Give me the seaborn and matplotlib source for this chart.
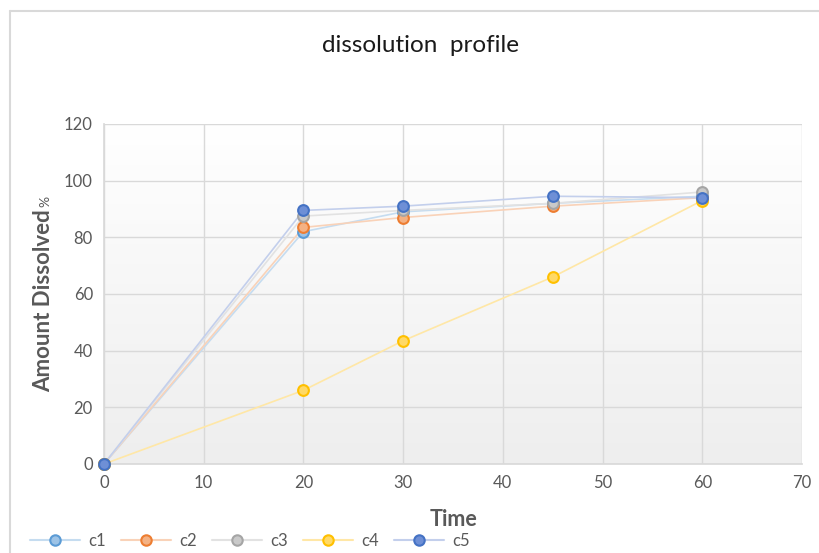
import numpy as np
import pandas as pd
import matplotlib
matplotlib.use("Agg")
import matplotlib.pyplot as plt
import seaborn as sns
from matplotlib.lines import Line2D
from matplotlib.colors import LinearSegmentedColormap

time = [0, 20, 30, 45, 60]
c1 = [0, 82, 89, 92, 94.5]
c2 = [0, 83.5, 87, 91, 94]
c3 = [0, 87.5, 89.5, 92, 96]
c4 = [0, 26, 43.5, 66, 93]
c5 = [0, 89.5, 91, 94.5, 94]
series_names = ["c1", "c2", "c3", "c4", "c5"]
x_ticks = [0, 10, 20, 30, 40, 50, 60, 70]
y_ticks = [0, 20, 40, 60, 80, 100, 120]

df = pd.DataFrame({"Time": time * 5,
                   "value": c1 + c2 + c3 + c4 + c5,
                   "series": sum([[n] * len(time) for n in series_names], [])})

sns.set_theme(style="white")
plt.rcParams["font.family"] = ["Lato", "DejaVu Sans"]

edge_cols = {"c1": "#5B9BD5", "c2": "#ED7D31", "c3": "#A5A5A5", "c4": "#FFC000", "c5": "#4472C4"}
face_cols = {"c1": "#9DC3E6", "c2": "#F4B183", "c3": "#C9C9C9", "c4": "#FFD966", "c5": "#6E8FD6"}
line_cols = {"c1": "#C5DCF0", "c2": "#F9D2B8", "c3": "#E2E2E2", "c4": "#FFE7A6", "c5": "#C3CFEC"}

fig = plt.figure(figsize=(8.2, 5.53), dpi=100)
ax = fig.add_axes([104 / 820, 1 - 464 / 553, 698 / 820, 340 / 553])

# gradient background: white at top, light grey at bottom
grad = np.linspace(0, 1, 256).reshape(-1, 1)
cmap = LinearSegmentedColormap.from_list("bg", ["#FFFFFF", "#EEEEEE"])
ax.imshow(grad, extent=[0, 70, 0, 120], aspect="auto", cmap=cmap, zorder=0, origin="upper")

sns.lineplot(data=df, x="Time", y="value", hue="series", palette=line_cols,
             linewidth=1.2, legend=False, ax=ax, zorder=2)
for n in series_names:
    sub = df[df.series == n]
    ax.scatter(sub["Time"], sub["value"], s=60, facecolor=face_cols[n],
               edgecolor=edge_cols[n], linewidth=1.5, zorder=3, clip_on=False)

ax.set_xlim(0, 70)
ax.set_ylim(0, 120)
ax.set_xticks(x_ticks)
ax.set_yticks(y_ticks)
ax.grid(True, color="#D9D9D9", linewidth=1)
ax.set_axisbelow(True)
for s in ["top", "right"]:
    ax.spines[s].set_visible(False)
ax.spines["left"].set_color("#D9D9D9")
ax.spines["bottom"].set_color("#D9D9D9")
ax.tick_params(axis="both", labelsize=12, colors="#595959", length=0, pad=8)
ax.set_xlabel("")
ax.set_ylabel("")

fig.text(453 / 820, 1 - 519 / 553, "Time", ha="center", va="center",
         fontsize=15.5, fontweight="bold", color="#595959")
fig.text(44 / 820, 1 - 301 / 553, "Amount Dissolved", ha="center", va="center",
         rotation=90, fontsize=16, fontweight="bold", color="#595959")
fig.text(45 / 820, 1 - 201 / 553, "%", ha="center", va="center",
         rotation=90, fontsize=10, color="#595959")
fig.text(421 / 820, 1 - 45 / 553, "dissolution  profile", ha="center", va="center",
         fontsize=17.5, color="#1a1a1a")

# legend
handles = [Line2D([0], [0], color=line_cols[n], linewidth=1.5, marker="o", markersize=7.5,
                  markerfacecolor=face_cols[n], markeredgecolor=edge_cols[n], markeredgewidth=1.5)
           for n in series_names]
fig.legend(handles, series_names, loc="center left", bbox_to_anchor=(30 / 820, 1 - 541 / 553),
           ncol=5, frameon=False, fontsize=12, labelcolor="#595959", handlelength=3.0,
           columnspacing=0.9, handletextpad=0.5, borderaxespad=0, borderpad=0)

# chart border (top and left)
fig.add_artist(Line2D([10 / 820, 1], [1 - 11 / 553, 1 - 11 / 553], transform=fig.transFigure,
                      color="#D9D9D9", linewidth=1.5))
fig.add_artist(Line2D([10 / 820, 10 / 820], [0, 1 - 11 / 553], transform=fig.transFigure,
                      color="#D9D9D9", linewidth=1.5))

fig.savefig("out.png", dpi=100)
